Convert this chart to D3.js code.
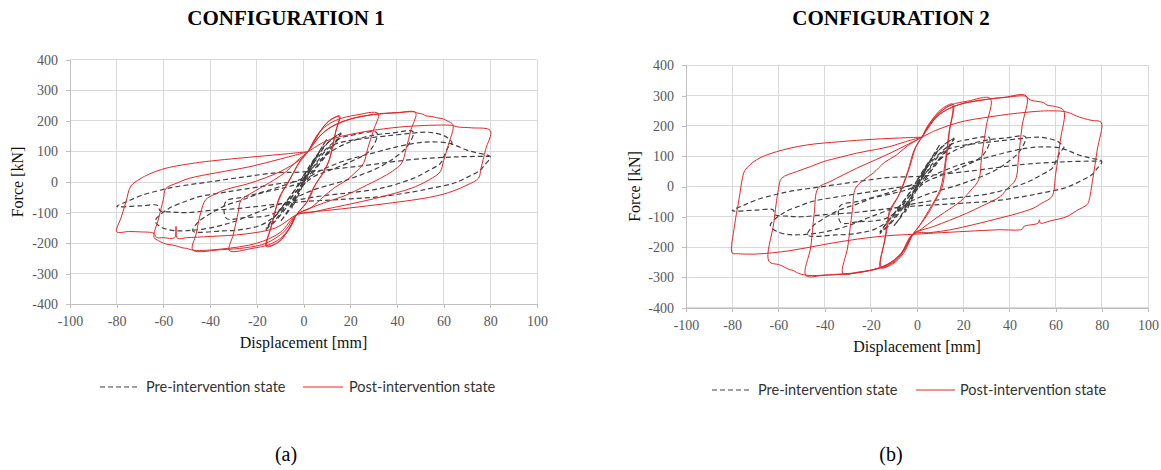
<!DOCTYPE html>
<html><head><meta charset="utf-8">
<script src="https://cdn.jsdelivr.net/npm/d3@7"></script>
<style>body{margin:0;background:#fff}svg{display:block}</style>
</head><body>
<svg id="c" width="1161" height="470"></svg>
<script>
// ---------- DATA ----------
const xTicks = [-100,-80,-60,-40,-20,0,20,40,60,80,100];
const yTicks = [-400,-300,-200,-100,0,100,200,300,400];
const titles = ["CONFIGURATION 1","CONFIGURATION 2"];
const xLabel = "Displacement [mm]";
const yLabel = "Force [kN]";
const legendLabels = ["Pre-intervention state","Post-intervention state"];
const panelLabels = ["(a)","(b)"];

// Pre-intervention state (same specimen record in both panels): [displacement mm, force kN]
const preCycles = [
  [[0,-5],[2.5,35],[5,80],[2.5,45],[0,5],[-2.5,-40],[-5,-85],[-2.5,-48],[0,-5]],
  [[0,5],[3,45],[6,90],[10,140],[8,115],[5,75],[2,30],[0,0],[-3,-45],[-6,-90],[-10,-130],[-8,-110],[-5,-70],[-2,-25],[0,5]],
  [[0,10],[4,60],[8,105],[12,140],[16,157],[13,120],[9,80],[5,40],[0,-10],[-5,-60],[-9,-100],[-13,-135],[-16,-150],[-13,-120],[-9,-80],[-5,-40],[0,10]],
  [[0,20],[5,80],[10,125],[14,150],[16,160],[14,135],[10,95],[5,45],[0,0],[-5,-50],[-10,-105],[-14,-140],[-16,-156],[-14,-130],[-10,-90],[-5,-40],[0,20]],
  [[0,20],[8,95],[15,140],[22,155],[31.4,161],[28.6,104],[18.6,61],[10,35],[4.3,17],[-3,-30],[-8,-75],[-12,-100],[-16,-111],[-25,-116],[-33,-119],[-33.3,-64],[-26,-50],[-19,-36],[-10,-15],[0,12]],
  [[0,12],[5,55],[10,90],[18,125],[28,150],[38,160],[47,164],[44.3,115],[40,85],[32.9,50],[18.6,7],[4.3,-26],[-5,-60],[-12,-110],[-18,-140],[-26,-155],[-35,-160],[-47.4,-160],[-45,-130],[-43.5,-121],[-38,-95],[-33.4,-77],[-26,-58],[-19,-38],[-10,-22],[-4.5,-11],[0,0]],
  [[0,0],[4.3,50],[11.4,115],[18,133],[25.7,142],[35,150],[47,160],[52,163],[56,160],[60,152],[62,143],[63.6,128],[62,115],[60.5,90],[58.6,61],[53,35],[47,12],[32.9,-21],[20,-35],[11.4,-42],[0,-55],[-10,-72],[-20,-100],[-30,-130],[-40,-150],[-48,-158],[-55,-159],[-60.8,-148],[-63.5,-128],[-58,-88],[-50,-62],[-44.6,-48],[-33.4,-33],[-19,-16],[-10,-5],[0,5]],
  [[0,5],[8,40],[18.6,72],[30,95],[40,115],[48,127],[54.3,131],[61.4,128],[65,120],[70,104],[75,94],[80,83],[77.5,55],[75.7,39],[70,15],[64.3,-4],[55,-20],[47,-32],[32.9,-48],[20,-55],[11.4,-59],[0,-64],[-10,-71],[-20,-80],[-30,-88],[-40,-93],[-50,-100],[-56,-98],[-61.5,-93],[-62.3,-77],[-70,-78],[-80,-80],[-75,-62],[-69.5,-44],[-62,-28],[-55,-16],[-40.6,0],[-26,16],[-11.7,30],[0,33],[23,51],[46,73],[65,82],[79.5,84]]
];

// Post-intervention state, configuration 1
const post1Cycles = [
  [[2,99],[5,140],[8,175],[11,200],[15.5,216],[14,170],[12.2,110],[11.2,75],[8.5,30],[5.4,-5],[2,-60],[-3,-107],[-5,-140],[-8,-175],[-11,-198],[-16,-211],[-14,-150],[-12,-90],[-10.3,-49],[-7,-5],[-4.6,27],[-1,75],[2,99]],
  [[2,99],[6,150],[9,185],[12,205],[15.2,213],[13.8,165],[12,100],[10.8,68],[7.5,20],[4.5,-15],[1,-70],[-3,-107],[-6,-150],[-9,-183],[-12,-202],[-15.6,-208],[-13.6,-140],[-11.5,-80],[-9.5,-40],[-6,5],[-2.5,55],[2,99]],
  [[2,99],[6,155],[10,185],[15,205],[22,218],[32,224],[30,170],[27.5,110],[25.7,61],[22,30],[18.6,7],[13,-20],[8.6,-48],[3,-85],[-3,-107],[-6,-150],[-10,-185],[-15,-205],[-22,-217],[-31.7,-224],[-30,-170],[-28,-100],[-26.7,-59],[-22,-35],[-18.9,-21],[-13,5],[-7.4,34],[-3,68],[2,99]],
  [[2,99],[7,150],[12,180],[20,205],[30,220],[40,226],[48,227],[46,170],[44,110],[42,61],[38,35],[32.9,12],[25,-18],[18.6,-42],[10,-65],[4.3,-81],[-3,-107],[-8,-160],[-16,-200],[-25,-215],[-35,-221],[-47.4,-222],[-46,-170],[-44,-100],[-42,-59],[-38,-40],[-33,-24],[-23,-4],[-10,34],[-1.7,72],[2,99]],
  [[2,99],[7,150],[12,181],[20,206],[30,221],[40,227],[47.5,229],[49,225],[51,222],[52.5,216],[55,214],[57,210],[60,206],[61.5,200],[64,187],[62,120],[60,70],[58.6,34],[54,8],[48,-15],[40,-35],[30,-55],[20,-72],[10,-88],[3,-100],[-3,-107],[-10,-165],[-20,-200],[-35,-219],[-47,-223],[-50,-217],[-52,-215],[-54,-210],[-56,-206],[-58,-204],[-60,-200],[-62,-192],[-64,-181],[-62,-118],[-60,-56],[-58.9,-21],[-54,-3],[-48.9,12],[-37.4,30],[-23,50],[-10,75],[2,99]],
  [[2,99],[10,135],[23,160],[38,177],[50,184],[63.5,185],[66,180],[72,177],[80,168],[78,106],[76,44],[75,13],[70,-10],[62,-35],[54,-50],[40,-66],[23,-82],[10,-93],[0,-101],[-3,-107],[-12,-150],[-25,-170],[-40,-178],[-50,-182],[-54,-184],[-54.6,-145],[-55.2,-182],[-60,-182],[-63,-181],[-64,-168],[-70,-163],[-75,-162],[-80,-163],[-78,-114],[-76,-64],[-73.9,-13],[-70,10],[-66,26],[-58.9,45],[-44.6,64],[-23.1,81],[-10,90],[2,99]]
];

// Post-intervention state, configuration 2
const post2Cycles = [
  [[2.2,163],[5,200],[8,235],[11,258],[15.6,272],[14,180],[12.5,80],[10.8,-5],[8,-45],[5.8,-77],[3,-110],[0,-140],[-1.8,-158],[-5,-210],[-8,-240],[-11,-258],[-15.8,-269],[-14,-180],[-12.5,-120],[-12,-82],[-7.4,-22],[-3.1,66],[-0.5,130],[2.2,163]],
  [[2.2,163],[6,205],[10,245],[15.2,268],[13.8,175],[12,70],[10,-10],[5,-80],[1,-130],[-1.8,-158],[-6,-215],[-10,-250],[-15.5,-266],[-13.8,-170],[-12,-90],[-8,-30],[-4,50],[-1,125],[2.2,163]],
  [[2.2,163],[5,205],[9,240],[15,270],[22,282],[31.7,291],[30,200],[28,100],[26.7,22],[23,-15],[18.8,-49],[12,-85],[7.2,-110],[2,-140],[-1.8,-158],[-6,-215],[-11,-252],[-17,-272],[-25,-282],[-32,-288],[-30,-200],[-28,-80],[-26.6,-5.5],[-23,22],[-19,44],[-14,80],[-8.9,104],[-4,135],[2.2,163]],
  [[2.2,163],[6,210],[11,245],[18,270],[28,285],[38,295],[47.3,299],[45.5,200],[44,100],[42.6,22],[39,-8],[36,-33],[28,-65],[21.6,-88],[14,-112],[7.2,-132],[-1.8,-158],[-7,-222],[-13,-258],[-22,-280],[-32,-290],[-40,-293],[-48.1,-294],[-46,-200],[-44.5,-90],[-42.8,-5.5],[-37.7,16],[-32,38],[-26.2,60],[-18,88],[-11.7,110],[-4.5,137],[2.2,163]],
  [[2.2,163],[6,210],[11,245],[18,270],[28,286],[38,294],[47,298],[49,286],[54.8,277],[56.3,269],[59.9,264],[63.5,251],[62,150],[60,40],[58.4,-33],[54,-55],[50.5,-71],[43,-90],[36,-104],[25,-125],[14.4,-143],[6,-152],[-1.8,-158],[-7,-222],[-13,-258],[-22,-280],[-35,-290],[-48,-293],[-52.1,-284],[-53.6,-277],[-55,-275],[-59.4,-259],[-64.1,-247],[-62,-120],[-60,-10],[-58.6,27],[-52.2,49],[-46,66],[-40.6,82],[-33,97],[-26.2,110],[-18,122],[-11.7,132],[-5,148],[2.2,163]],
  [[2.2,163],[8,185],[14.4,203],[21,217],[28.9,227],[36,235],[43.3,242],[53.4,249],[58,250],[63.5,248],[66.4,242],[69,233],[72,225],[75.8,218],[79.7,212],[78,120],[76,20],[74.5,-45],[73.6,-60],[69,-80],[65,-99],[58,-113],[53.4,-121],[53,-110],[52.4,-121],[46.2,-132],[45.5,-141],[35,-143],[21.6,-148],[7.2,-154],[-1.8,-158],[-11.7,-162],[-26,-174],[-40.6,-192],[-55,-212],[-69.5,-223],[-78,-222],[-80,-220],[-79,-130],[-77,-40],[-75.5,30],[-74.5,53],[-69.5,88],[-60.8,115],[-47.8,137],[-33.4,148],[-19,156],[-5,161],[2.2,163]]
];

// ---------- LAYOUT ----------
const panels = [
  {title:titles[0], cap:panelLabels[0], post:post1Cycles, x0:70, x1:537, yT:59.6, yB:304.4, cx:286,
   titleY:25, xlabY:347.5, ylabX:22.5, tickY:326, legY:387, dash:[100,140], t1:146, red:[303,343], t2:349, capY:461},
  {title:titles[1], cap:panelLabels[1], post:post2Cycles, x0:686, x1:1148, yT:65.4, yB:307.6, cx:891,
   titleY:25, xlabY:352, ylabX:639.5, tickY:330, legY:390, dash:[712,752], t1:758, red:[916,955], t2:960, capY:461}
];
const SERIF = "'Liberation Serif','Times New Roman',Times,serif";
const SANS = "Lato,'Open Sans',sans-serif";
const RED = "#e0282c", DARK = "#404040", GRID = "#d9d9d9";

const svg = d3.select("#c");

panels.forEach(p => {
  const x = d3.scaleLinear().domain([-100,100]).range([p.x0,p.x1]);
  const y = d3.scaleLinear().domain([-400,400]).range([p.yB,p.yT]);
  const g = svg.append("g");

  // gridlines
  g.append("g").selectAll("line").data(xTicks).join("line")
    .attr("x1",d=>x(d)).attr("x2",d=>x(d)).attr("y1",p.yT).attr("y2",p.yB)
    .attr("stroke",GRID).attr("stroke-width",1).attr("shape-rendering","crispEdges");
  g.append("g").selectAll("line").data(yTicks).join("line")
    .attr("x1",p.x0).attr("x2",p.x1).attr("y1",d=>y(d)).attr("y2",d=>y(d))
    .attr("stroke",GRID).attr("stroke-width",1).attr("shape-rendering","crispEdges");

  // axes (ticks + labels)
  const ax = g.append("g").attr("transform",`translate(0,${p.yB})`)
    .call(d3.axisBottom(x).tickValues(xTicks).tickSize(4).tickPadding(p.tickY-p.yB-14).tickFormat(d3.format("d")));
  const ay = g.append("g").attr("transform",`translate(${p.x0},0)`)
    .call(d3.axisLeft(y).tickValues(yTicks).tickSize(4).tickPadding(8).tickFormat(d3.format("d")));
  [ax,ay].forEach(a=>{
    a.attr("font-family",null);
    a.select(".domain").attr("stroke","#bfbfbf").attr("shape-rendering","crispEdges");
    a.selectAll(".tick line").attr("stroke","#bfbfbf").attr("shape-rendering","crispEdges");
    a.selectAll("text").style("font-family",SERIF).style("font-size","14px").attr("fill","#595959");
  });
  ax.selectAll("text").text(d=>d<0?"-"+Math.abs(d):d);
  ay.selectAll("text").text(d=>d<0?"-"+Math.abs(d):d);

  // curves
  const line = d3.line().x(d=>x(d[0])).y(d=>y(d[1])).curve(d3.curveCatmullRom.alpha(0.5));
  g.append("g").selectAll("path").data(preCycles).join("path")
    .attr("d",line).attr("fill","none").attr("stroke",DARK).attr("stroke-width",1.2)
    .attr("stroke-dasharray","5,3");
  g.append("g").selectAll("path").data(p.post).join("path")
    .attr("d",line).attr("fill","none").attr("stroke",RED).attr("stroke-width",1);

  // titles
  svg.append("text").attr("x",p.cx).attr("y",p.titleY).attr("text-anchor","middle")
    .style("font-family",SERIF).attr("font-weight","bold").style("font-size","21px").attr("fill","#000").text(p.title);
  svg.append("text").attr("x",(p.x0+p.x1)/2).attr("y",p.xlabY).attr("text-anchor","middle")
    .style("font-family",SERIF).style("font-size","16px").attr("fill","#111").text(xLabel);
  svg.append("text").attr("transform",`translate(${p.ylabX},${(p.yT+p.yB)/2}) rotate(-90)`).attr("text-anchor","middle")
    .style("font-family",SERIF).style("font-size","16px").attr("fill","#111").text(yLabel);

  // legend
  const lg = svg.append("g");
  lg.append("line").attr("x1",p.dash[0]).attr("x2",p.dash[1]).attr("y1",p.legY).attr("y2",p.legY)
    .attr("stroke",DARK).attr("stroke-width",1.2).attr("stroke-dasharray","5,3");
  lg.append("line").attr("x1",p.red[0]).attr("x2",p.red[1]).attr("y1",p.legY).attr("y2",p.legY)
    .attr("stroke",RED).attr("stroke-width",1.2);
  lg.append("text").attr("x",p.t1).attr("y",p.legY+5).style("font-family",SANS).style("font-size","14.5px")
    .attr("fill","#333").text(legendLabels[0]);
  lg.append("text").attr("x",p.t2).attr("y",p.legY+5).style("font-family",SANS).style("font-size","14.5px")
    .attr("fill","#333").text(legendLabels[1]);

  // caption
  svg.append("text").attr("x",p.cx).attr("y",p.capY).attr("text-anchor","middle")
    .style("font-family",SERIF).style("font-size","20px").attr("fill","#000").text(p.cap);
});
</script>
</body></html>
